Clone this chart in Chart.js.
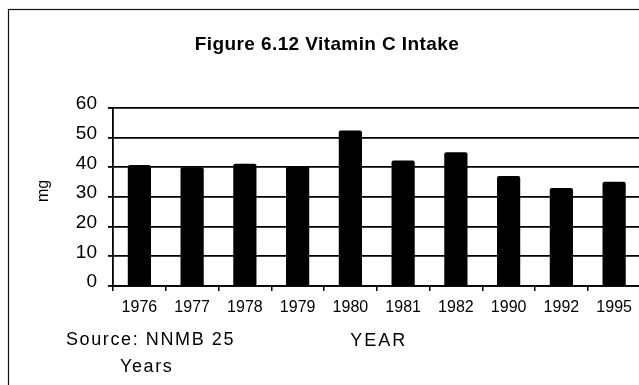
<!DOCTYPE html>
<html>
<head>
<meta charset="utf-8">
<script src="https://cdn.jsdelivr.net/npm/chart.js@4.4.1/dist/chart.umd.min.js"></script>
<style>
  html, body { margin: 0; padding: 0; background: #fff; overflow: hidden; }
  #wrap { position: absolute; left: 0; top: 0; width: 660px; height: 385px; }
</style>
</head>
<body>
<div id="wrap"><canvas id="c" width="660" height="385"></canvas></div>
<script>
// Vitamin C intake by survey year (mg)
const years = ['1976', '1977', '1978', '1979', '1980', '1981', '1982', '1990', '1992', '1995'];
const intakeMg = [40.8, 40, 41.2, 40.4, 52.4, 42.3, 45.1, 37.1, 33, 35.1];
const yTicks = [0, 10, 20, 30, 40, 50, 60];

const titleText = 'Figure 6.12 Vitamin C Intake';
const yTitle = 'mg';
const xTitle = 'YEAR';
const sourceLine1 = 'Source: NNMB 25';
const sourceLine2 = 'Years';

const FONT = '"Liberation Sans", Arial, sans-serif';

// Frame and free-standing text around the plot
const decorations = {
  id: 'decorations',
  beforeDraw(chart) {
    const ctx = chart.ctx;
    ctx.save();
    ctx.fillStyle = '#fff';
    ctx.fillRect(0, 0, chart.width, chart.height);
    ctx.strokeStyle = '#111';
    ctx.lineWidth = 1.2;
    ctx.strokeRect(8.5, 9.5, chart.width + 20, chart.height + 20);
    ctx.restore();
  },
  afterDraw(chart) {
    const ctx = chart.ctx;
    const area = chart.chartArea;
    ctx.save();
    ctx.fillStyle = '#000';
    ctx.textBaseline = 'middle';

    ctx.font = 'bold 19px ' + FONT;
    ctx.letterSpacing = '0.4px';
    ctx.textAlign = 'center';
    ctx.fillText(titleText, 327, 45);

    ctx.font = '18px ' + FONT;
    ctx.letterSpacing = '2px';
    ctx.fillText(xTitle, (area.left + area.right) / 2 + 2, 341);

    ctx.letterSpacing = '1.6px';
    ctx.textAlign = 'left';
    ctx.fillText(sourceLine1, 66, 340);
    ctx.fillText(sourceLine2, 120, 367);

    ctx.letterSpacing = '0px';
    ctx.font = '16px ' + FONT;
    ctx.translate(44, 191);
    ctx.rotate(-Math.PI / 2);
    ctx.textAlign = 'center';
    ctx.fillText(yTitle, 0, 0);
    ctx.restore();
  }
};

new Chart(document.getElementById('c'), {
  type: 'bar',
  data: {
    labels: years,
    datasets: [{
      data: intakeMg,
      backgroundColor: '#000',
      borderWidth: 0,
      borderRadius: 2,
      barPercentage: 0.44,
      categoryPercentage: 1
    }]
  },
  options: {
    responsive: false,
    animation: false,
    layout: { padding: { left: 0, top: 108, right: 19.5, bottom: 69 } },
    plugins: {
      legend: { display: false },
      title: { display: false },
      tooltip: { enabled: false }
    },
    scales: {
      x: {
        offset: true,
        afterFit(scale) { scale.height = 30; },
        grid: {
          offset: true,
          drawOnChartArea: false,
          drawTicks: true,
          tickLength: 5,
          color: '#000',
          lineWidth: 1.5
        },
        border: { display: true, color: '#000', width: 1.8 },
        ticks: {
          color: '#000',
          font: { family: FONT, size: 16 },
          padding: 7,
          maxRotation: 0,
          autoSkip: false
        }
      },
      y: {
        min: 0,
        max: 60,
        afterFit(scale) { scale.width = 113; },
        afterBuildTicks(scale) { scale.ticks = yTicks.map(v => ({ value: v })); },
        grid: {
          color: '#000',
          lineWidth: 1.8,
          tickLength: 5,
          drawTicks: true
        },
        border: { display: true, color: '#000', width: 1.8 },
        ticks: {
          color: '#000',
          font: { family: FONT, size: 19 },
          padding: 11,
          labelOffset: -4
        }
      }
    }
  },
  plugins: [decorations]
});
</script>
</body>
</html>
